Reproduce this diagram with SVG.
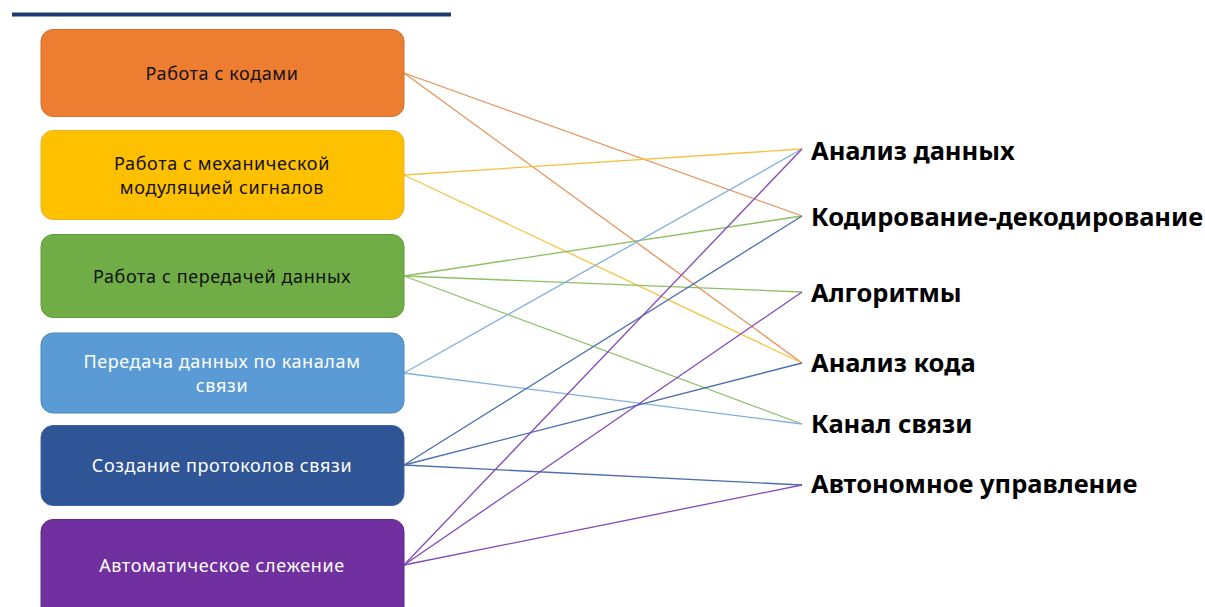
<svg xmlns="http://www.w3.org/2000/svg" width="1205" height="607" viewBox="0 0 1205 607">
<style>
.box{stroke-width:1}
.bt{font-family:"Noto Sans","DejaVu Sans",sans-serif;font-size:18px;letter-spacing:0.6px;text-anchor:middle}
.dark{fill:#111}
.light{fill:#fff}
.lbl{font-family:"Noto Sans","Liberation Sans",sans-serif;font-size:25.5px;font-weight:bold;fill:#000}
#connectors line{stroke-width:1.3;fill:none}
</style>
<rect width="1205" height="607" fill="#fff"/>
<line x1="12" y1="14.5" x2="451" y2="14.5" stroke="#1F3B6E" stroke-width="4"/>
<g id="connectors">
<line x1="404" y1="73" x2="802" y2="216" stroke="#E8925A"/>
<line x1="404" y1="73" x2="802" y2="363" stroke="#E8925A"/>
<line x1="404" y1="175" x2="802" y2="149" stroke="#F5C242"/>
<line x1="404" y1="175" x2="802" y2="363" stroke="#F5C242"/>
<line x1="404" y1="276" x2="802" y2="216" stroke="#8CC063"/>
<line x1="404" y1="276" x2="802" y2="292" stroke="#8CC063"/>
<line x1="404" y1="276" x2="802" y2="424" stroke="#8CC063"/>
<line x1="404" y1="373" x2="802" y2="149" stroke="#7FB0DE"/>
<line x1="404" y1="373" x2="802" y2="424" stroke="#7FB0DE"/>
<line x1="404" y1="465" x2="802" y2="216" stroke="#4A6FAF"/>
<line x1="404" y1="465" x2="802" y2="363" stroke="#4A6FAF"/>
<line x1="404" y1="465" x2="802" y2="485" stroke="#4A6FAF"/>
<line x1="404" y1="565" x2="802" y2="149" stroke="#8548B8"/>
<line x1="404" y1="565" x2="802" y2="292" stroke="#8548B8"/>
<line x1="404" y1="565" x2="802" y2="485" stroke="#8548B8"/>
</g>
<g id="n1"><rect class="box" x="41" y="29.5" width="363" height="87" rx="12" fill="#ED7D31" stroke="#D0702C"/><text class="bt dark" x="222" y="80">Работа с кодами</text></g>
<g id="n2"><rect class="box" x="41" y="130.5" width="363" height="89" rx="12" fill="#FFC000" stroke="#E6B32A"/><text class="bt dark" x="222" y="170">Работа с механической</text><text class="bt dark" x="222" y="194">модуляцией сигналов</text></g>
<g id="n3"><rect class="box" x="41" y="234.5" width="363" height="83" rx="12" fill="#70AD47" stroke="#5F9A3C"/><text class="bt dark" x="222" y="283">Работа с передачей данных</text></g>
<g id="n4"><rect class="box" x="41" y="333" width="363" height="80" rx="12" fill="#5B9BD5" stroke="#4A86BF"/><text class="bt light" x="222" y="368">Передача данных по каналам</text><text class="bt light" x="222" y="392">связи</text></g>
<g id="n5"><rect class="box" x="41" y="425.5" width="363" height="80" rx="12" fill="#2F5597" stroke="#3F65A8"/><text class="bt light" x="222" y="472">Создание протоколов связи</text></g>
<g id="n6"><rect class="box" x="41" y="519.5" width="363" height="100" rx="12" fill="#7030A0" stroke="#5E2A8C"/><text class="bt light" x="222" y="572">Автоматическое слежение</text></g>
<g id="n7"><text class="lbl" x="811" y="160">Анализ данных</text></g>
<g id="n8"><text class="lbl" x="811" y="226">Кодирование-декодирование</text></g>
<g id="n9"><text class="lbl" x="811" y="302">Алгоритмы</text></g>
<g id="n10"><text class="lbl" x="811" y="372">Анализ кода</text></g>
<g id="n11"><text class="lbl" x="811" y="433">Канал связи</text></g>
<g id="n12"><text class="lbl" x="811" y="493">Автономное управление</text></g>
</svg>
